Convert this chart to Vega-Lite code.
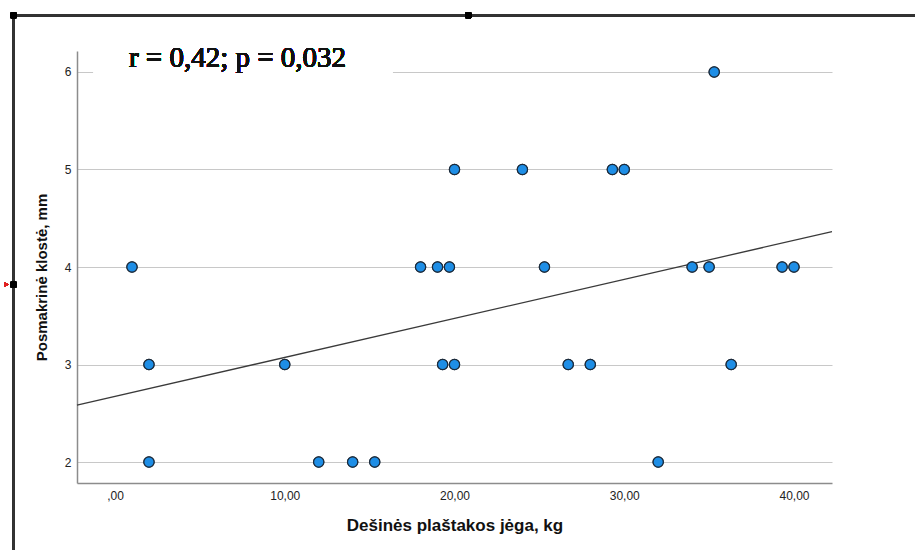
{
  "$schema": "https://vega.github.io/schema/vega-lite/v6.json",
  "width": 755,
  "height": 432,
  "autosize": {"type": "none"},
  "padding": {"left": 77, "top": 51, "right": 83, "bottom": 67},
  "background": "white",
  "config": {"view": {"stroke": null}, "font": "Liberation Sans"},
  "data": {
    "values": [
      {"x": 1, "y": 4}, {"x": 2, "y": 3}, {"x": 2, "y": 2}, {"x": 10, "y": 3},
      {"x": 12, "y": 2}, {"x": 14, "y": 2}, {"x": 15.3, "y": 2}, {"x": 18, "y": 4},
      {"x": 19, "y": 4}, {"x": 19.7, "y": 4}, {"x": 19.3, "y": 3}, {"x": 20, "y": 3},
      {"x": 20, "y": 5}, {"x": 24, "y": 5}, {"x": 25.3, "y": 4}, {"x": 26.7, "y": 3},
      {"x": 28, "y": 3}, {"x": 29.3, "y": 5}, {"x": 30, "y": 5}, {"x": 32, "y": 2},
      {"x": 34, "y": 4}, {"x": 35, "y": 4}, {"x": 35.3, "y": 6}, {"x": 36.3, "y": 3},
      {"x": 39.3, "y": 4}, {"x": 40, "y": 4}
    ]
  },
  "layer": [
    {
      "mark": {"type": "point", "filled": true, "shape": "circle", "size": 105, "fill": "#1e8ee6", "stroke": "#1c2b3b", "strokeWidth": 1.2, "opacity": 1},
      "encoding": {
        "x": {
          "field": "x", "type": "quantitative",
          "scale": {"domain": [-2.24, 42.24], "nice": false, "zero": false},
          "axis": {
            "title": "Dešinės plaštakos jėga, kg",
            "values": [0, 10, 20, 30, 40],
            "labelExpr": "datum.value == 0 ? ',00' : replace(format(datum.value, '.2f'), '.', ',')",
            "grid": false, "ticks": false,
            "domainColor": "#8c8c8c", "domainWidth": 1.5,
            "labelFontSize": 12, "labelColor": "#222", "labelPadding": 7,
            "titleFontSize": 17, "titleFontWeight": "bold", "titleColor": "#111", "titlePadding": 16
          }
        },
        "y": {
          "field": "y", "type": "quantitative",
          "scale": {"domain": [1.785, 6.215], "nice": false, "zero": false},
          "axis": {
            "title": "Posmakrinė klostė, mm",
            "values": [2, 3, 4, 5, 6],
            "format": "d",
            "grid": true, "gridColor": "#c8c8c8", "gridWidth": 1,
            "ticks": false,
            "domainColor": "#8c8c8c", "domainWidth": 1.5,
            "labelFontSize": 12, "labelColor": "#222", "labelPadding": 6,
            "titleFontSize": 15, "titleFontWeight": "bold", "titleColor": "#111", "titlePadding": 15,
            "titleY": 226
          }
        }
      }
    },
    {
      "mark": {"type": "rect", "fill": "white", "opacity": 1},
      "encoding": {
        "x": {"datum": -1.25}, "x2": {"datum": 16.33},
        "y": {"datum": 5.95}, "y2": {"datum": 6.05}
      }
    },
    {
      "transform": [{"regression": "y", "on": "x", "extent": [-2.24, 42.24]}],
      "mark": {"type": "line", "color": "#3a3a3a", "strokeWidth": 1.3},
      "encoding": {
        "x": {"field": "x", "type": "quantitative"},
        "y": {"field": "y", "type": "quantitative"}
      }
    },
    {
      "mark": {"type": "point", "filled": true, "shape": "circle", "size": 105, "fill": "#1e8ee6", "stroke": "#1c2b3b", "strokeWidth": 1.2, "opacity": 1},
      "encoding": {
        "x": {"field": "x", "type": "quantitative"},
        "y": {"field": "y", "type": "quantitative"}
      }
    },
    {
      "mark": {"type": "text", "font": "Liberation Serif, serif", "fontSize": 29, "fontWeight": "normal", "fontStyle": "normal", "fill": "#111111", "stroke": "transparent", "strokeWidth": 0, "strokeOpacity": 0, "align": "left", "baseline": "alphabetic"},
      "encoding": {
        "x": {"datum": 0.82}, "y": {"datum": 6.05},
        "text": {"value": "r = 0,42; p = 0,032"}
      }
    },
    {
      "mark": {"type": "rule", "color": "#333333", "strokeWidth": 1.6},
      "encoding": {
        "x": {"datum": -5.98}, "x2": {"datum": 47.3},
        "y": {"datum": 6.58}
      }
    },
    {
      "mark": {"type": "rule", "color": "#333333", "strokeWidth": 1.6},
      "encoding": {
        "x": {"datum": -5.98},
        "y": {"datum": 6.58}, "y2": {"datum": 1.08}
      }
    },
    {
      "mark": {"type": "square", "filled": true, "color": "black", "size": 30, "opacity": 1},
      "encoding": {"x": {"datum": -5.98}, "y": {"datum": 6.58}}
    },
    {
      "mark": {"type": "square", "filled": true, "color": "black", "size": 30, "opacity": 1},
      "encoding": {"x": {"datum": 20.82}, "y": {"datum": 6.58}}
    },
    {
      "mark": {"type": "square", "filled": true, "color": "black", "size": 30, "opacity": 1},
      "encoding": {"x": {"datum": -5.98}, "y": {"datum": 3.82}}
    },
    {
      "mark": {"type": "point", "shape": "triangle-right", "filled": true, "color": "#e02020", "size": 25, "opacity": 1},
      "encoding": {"x": {"datum": -6.4}, "y": {"datum": 3.82}}
    }
  ]
}
